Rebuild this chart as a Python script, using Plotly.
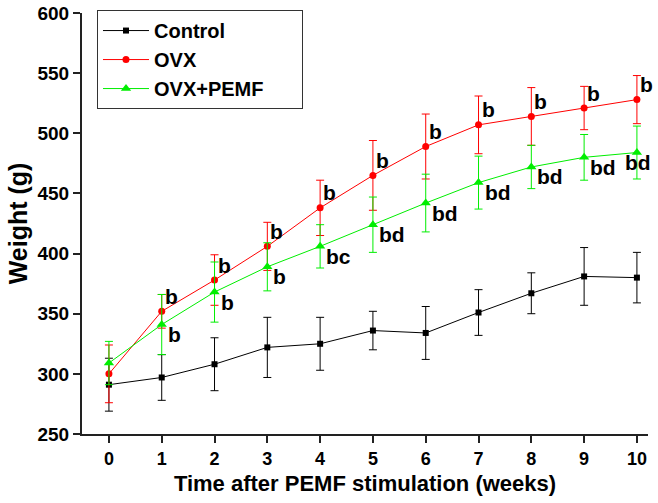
import plotly.graph_objects as go

weeks = [0, 1, 2, 3, 4, 5, 6, 7, 8, 9, 10]

control_mean = [291, 297, 308, 322, 325, 336, 334, 351, 367, 381, 380]
control_err = [22, 19, 22, 25, 22, 16, 22, 19, 17, 24, 21]

ovx_mean = [300, 352, 378, 406, 438, 465, 489, 507, 514, 521, 528]
ovx_err = [24, 14, 21, 20, 23, 29, 27, 24, 24, 18, 20]

pemf_mean = [309, 341, 368, 389, 406, 424, 442, 459, 472, 480, 484]
pemf_err = [18, 25, 25, 20, 18, 23, 24, 22, 18, 19, 22]

ovx_labels = ["", "b", "b", "b", "b", "b", "b", "b", "b", "b", "b"]
pemf_labels = ["", "b", "b", "b", "bc", "bd", "bd", "bd", "bd", "bd", "bd"]

y_ticks = [250, 300, 350, 400, 450, 500, 550, 600]

FONT = "Liberation Sans, Arial, sans-serif"
# invisible padding so the legend box is as wide as in the original
PAD = "<span style='color:rgba(0,0,0,0)'>MM</span>"

fig = go.Figure()

series = [
    ("Control", control_mean, control_err, "#000000", "square", 6),
    ("OVX", ovx_mean, ovx_err, "#ff0000", "circle", 7),
    ("OVX+PEMF", pemf_mean, pemf_err, "#00ee00", "triangle-up", 9),
]
for name, ys, es, color, sym, size in series:
    fig.add_trace(go.Scatter(
        x=weeks, y=ys, name=name + PAD, mode="lines+markers",
        line=dict(color=color, width=1),
        marker=dict(symbol=sym, size=size, color=color),
        error_y=dict(type="data", array=es, visible=True, color=color,
                     thickness=1, width=4),
    ))

annotations = []
for x, y, t in zip(weeks, ovx_mean, ovx_labels):
    if t:
        annotations.append(dict(x=x, y=y, xref="x", yref="y", text="<b>%s</b>" % t,
                                showarrow=False, xanchor="left", yanchor="middle",
                                xshift=1, yshift=15,
                                font=dict(family=FONT, size=21, color="#000")))
for i, (x, y, t) in enumerate(zip(weeks, pemf_mean, pemf_labels)):
    if t:
        last = i == len(weeks) - 1
        annotations.append(dict(x=x, y=y, xref="x", yref="y", text="<b>%s</b>" % t,
                                showarrow=False,
                                xanchor="center" if last else "left",
                                yanchor="middle",
                                xshift=1 if last else 4, yshift=-10,
                                font=dict(family=FONT, size=21, color="#000")))

fig.update_layout(
    width=658, height=503,
    margin=dict(l=82, r=10, t=13, b=69, autoexpand=False),
    paper_bgcolor="white", plot_bgcolor="white",
    font=dict(family=FONT, color="#000"),
    showlegend=True,
    legend=dict(x=0.0265, y=1.007, xanchor="left", yanchor="top",
                bgcolor="white", bordercolor="#333", borderwidth=1,
                font=dict(family=FONT, size=20, color="#000", weight="bold"),
                itemwidth=46, tracegroupgap=0),
    annotations=annotations,
    xaxis=dict(range=[-0.51, 10.21], tickmode="array", tickvals=weeks,
               ticktext=["<b>%d</b>" % w for w in weeks],
               showline=True, linecolor="#222", linewidth=2,
               ticks="outside", ticklen=7, tickwidth=2, tickcolor="#222",
               showgrid=False, zeroline=False, automargin=False,
               ticklabeloverflow="allow",
               tickfont=dict(family=FONT, size=18, color="#000"),
               title=dict(text="<b>Time after PEMF stimulation (weeks)</b>",
                          font=dict(family=FONT, size=22, color="#000"),
                          standoff=8)),
    yaxis=dict(range=[250, 600], tickmode="array", tickvals=y_ticks,
               ticktext=["<b>%d</b>" % v for v in y_ticks],
               showline=True, linecolor="#222", linewidth=2,
               ticks="outside", ticklen=7, tickwidth=2, tickcolor="#222",
               showgrid=False, zeroline=False, automargin=False,
               ticklabeloverflow="allow",
               tickfont=dict(family=FONT, size=19, color="#000"),
               title=dict(text="<b>Weight (g)</b>",
                          font=dict(family=FONT, size=25, color="#000"),
                          standoff=3)),
)

fig.write_html("out.html",
               config={"displayModeBar": False},
               post_script="document.body.style.margin='0';")
